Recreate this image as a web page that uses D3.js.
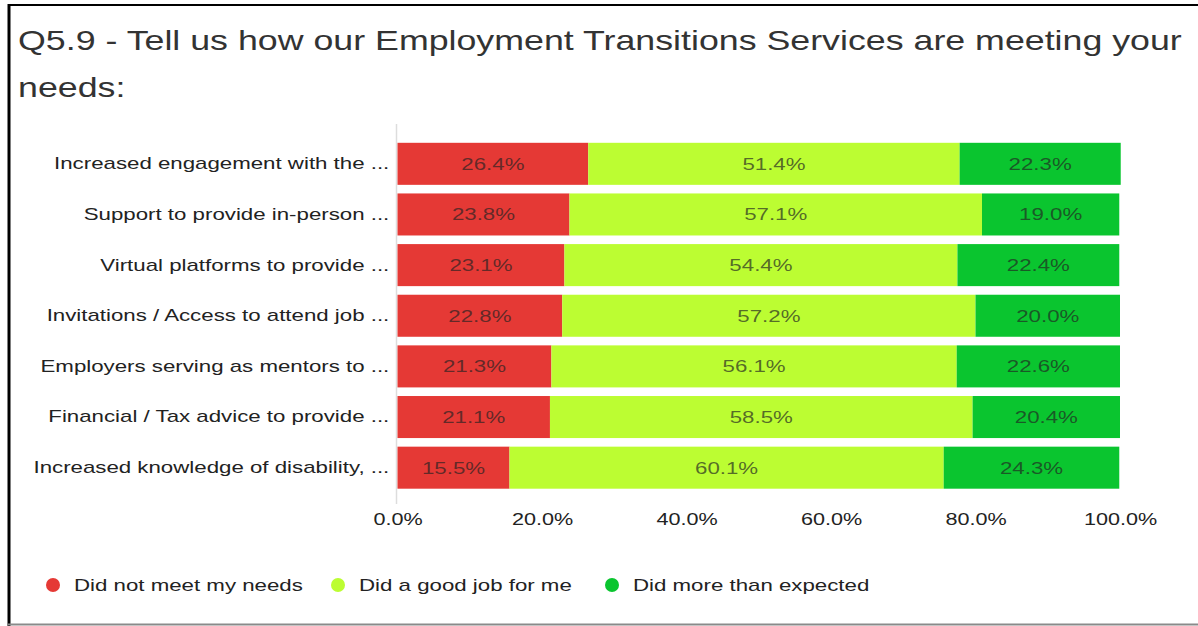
<!DOCTYPE html>
<html>
<head>
<meta charset="utf-8">
<script src="https://cdn.jsdelivr.net/npm/d3@7"></script>
<style>
  html, body { margin: 0; padding: 0; background: #fff; }
  svg { display: block; font-family: "Liberation Sans", Arial, sans-serif; }
</style>
</head>
<body>
<svg id="chart" width="1198" height="626"></svg>
<script>
// Survey answers, percent of respondents per service
const categories = [
  "Increased engagement with the ...",
  "Support to provide in-person ...",
  "Virtual platforms to provide ...",
  "Invitations / Access to attend job ...",
  "Employers serving as mentors to ...",
  "Financial / Tax advice to provide ...",
  "Increased knowledge of disability, ..."
];
const seriesNames = ["Did not meet my needs", "Did a good job for me", "Did more than expected"];
const didNotMeet   = [26.4, 23.8, 23.1, 22.8, 21.3, 21.1, 15.5];
const didGoodJob   = [51.4, 57.1, 54.4, 57.2, 56.1, 58.5, 60.1];
const didMoreThan  = [22.3, 19.0, 22.4, 20.0, 22.6, 20.4, 24.3];
const xTicks = [0, 20, 40, 60, 80, 100];
const colors = ["#e53935", "#bcfd32", "#0ac52f"];

const title1 = "Q5.9 - Tell us how our Employment Transitions Services are meeting your";
const title2 = "needs:";

const svg = d3.select("#chart");
const W = 1198, H = 626;
const WIDE = 1.31;     // horizontal stretch of the wide text face

// places a text element at (x, y) and widens its glyphs horizontally
function wideText(parent, x, y, sx) {
  return parent.append("g").attr("transform", `translate(${x},${y}) scale(${sx},1)`).append("text");
}

// frame
svg.append("line").attr("x1", 9).attr("x2", 9).attr("y1", 4).attr("y2", H)
  .attr("stroke", "#000").attr("stroke-width", 3);
svg.append("line").attr("x1", 8).attr("x2", W).attr("y1", 5).attr("y2", 5)
  .attr("stroke", "#000").attr("stroke-width", 2);
svg.append("line").attr("x1", 8).attr("x2", W).attr("y1", 624.5).attr("y2", 624.5)
  .attr("stroke", "#8a8a8a").attr("stroke-width", 2);

// title
wideText(svg, 18, 50, 1.277).attr("fill", "#333").style("font-size", "28px").text(title1);
wideText(svg, 18, 97, 1.277).attr("fill", "#333").style("font-size", "28px").text(title2);

const plot = { left: 397.5, right: 1120, top: 138.5, bottom: 493 };

const x = d3.scaleLinear().domain([0, 100]).range([plot.left, plot.right]);
const y = d3.scaleBand().domain(categories).range([plot.top, plot.bottom]).paddingInner(0.17).paddingOuter(0.085);

const stackData = categories.map((c, i) => ({ cat: c, s0: didNotMeet[i], s1: didGoodJob[i], s2: didMoreThan[i] }));
const layers = d3.stack().keys(["s0", "s1", "s2"])(stackData);

// baseline
svg.append("line").attr("x1", plot.left - 1).attr("x2", plot.left - 1)
  .attr("y1", 124).attr("y2", 504).attr("stroke", "#ddd").attr("stroke-width", 1.5);

const g = svg.append("g");
layers.forEach((layer, li) => {
  const lg = g.append("g");
  lg.selectAll("rect").data(layer).join("rect")
    .attr("x", d => x(d[0]))
    .attr("y", d => y(d.data.cat))
    .attr("width", d => x(d[1]) - x(d[0]))
    .attr("height", y.bandwidth())
    .attr("fill", colors[li]);
  layer.forEach(d => {
    wideText(lg, (x(d[0]) + x(d[1])) / 2, y(d.data.cat) + y.bandwidth() / 2, WIDE)
      .attr("dy", "0.35em")
      .attr("text-anchor", "middle")
      .attr("fill", "#222").attr("fill-opacity", 0.68)
      .style("font-size", "17px")
      .text((d[1] - d[0]).toFixed(1) + "%");
  });
});

// category labels
const yAxis = d3.axisLeft(y).tickSize(0).tickPadding(5.5);
const ya = svg.append("g").attr("transform", `translate(${plot.left - 1},0)`).call(yAxis);
ya.select(".domain").remove();
ya.selectAll("text").attr("fill", "#222").attr("transform", `scale(${WIDE},1)`)
  .style("font-size", "17px").style("font-family", "Liberation Sans, Arial, sans-serif");

// x axis
const xAxis = d3.axisBottom(x).tickValues(xTicks).tickSize(0).tickPadding(0).tickFormat(d => d.toFixed(1) + "%");
const xa = svg.append("g").attr("transform", `translate(0,${plot.bottom + 26})`).call(xAxis);
xa.select(".domain").remove();
xa.selectAll("text").attr("fill", "#222").attr("dy", "0.35em").attr("transform", "scale(1.27,1)")
  .style("font-size", "17px").style("font-family", "Liberation Sans, Arial, sans-serif");

// legend
const legendX = [53, 338, 612];
seriesNames.forEach((name, i) => {
  const lg = svg.append("g").attr("transform", `translate(${legendX[i]},585)`);
  lg.append("circle").attr("r", 7).attr("fill", colors[i]);
  wideText(lg, 21, 0, WIDE).attr("dy", "0.35em").attr("fill", "#222")
    .style("font-size", "17px").text(name);
});
</script>
</body>
</html>
